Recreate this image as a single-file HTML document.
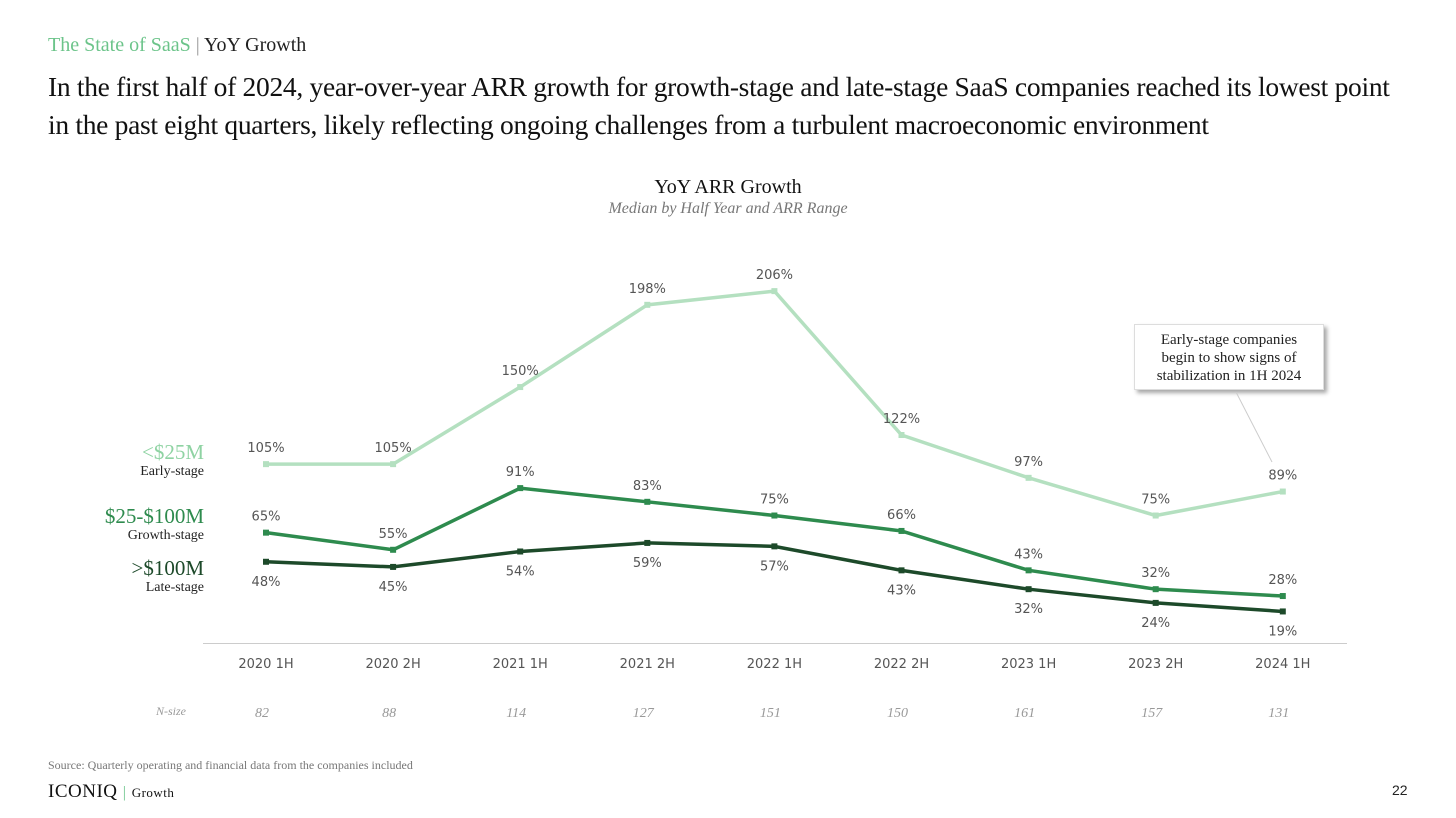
<!DOCTYPE html>
<html><head><meta charset="utf-8"><style>
body{margin:0;width:1456px;height:818px;background:#fff;position:relative;overflow:hidden;font-family:"Liberation Serif",serif}
.a{position:absolute;margin:0}
</style></head><body>
<div class="a" style="left:48px;top:34px;font-size:20px;color:#222"><span style="color:#6cc48a">The State of SaaS</span> <span style="color:#999">|</span> YoY Growth</div>
<h1 class="a" style="left:48px;top:68px;font-size:27.5px;font-weight:normal;line-height:38px;color:#111;letter-spacing:-0.3px">In the first half of 2024, year-over-year ARR growth for growth-stage and late-stage SaaS companies reached its lowest point<br>in the past eight quarters, likely reflecting ongoing challenges from a turbulent macroeconomic environment</h1>
<div class="a" style="left:0;width:1456px;text-align:center;top:176px;font-size:20px;color:#111">YoY ARR Growth</div>
<div class="a" style="left:0;width:1456px;text-align:center;top:200px;font-size:16px;font-style:italic;color:#777">Median by Half Year and ARR Range</div>
<div class="a" style="right:1252px;top:440px;text-align:right"><div style="font-size:21px;color:#8fd3a3;line-height:24px">&lt;$25M</div><div style="font-size:14px;color:#222">Early-stage</div></div>
<div class="a" style="right:1252px;top:504px;text-align:right"><div style="font-size:21px;color:#2e8b4e;line-height:24px">$25-$100M</div><div style="font-size:14px;color:#222">Growth-stage</div></div>
<div class="a" style="right:1252px;top:556px;text-align:right"><div style="font-size:21px;color:#1d4a2a;line-height:24px">&gt;$100M</div><div style="font-size:14px;color:#222">Late-stage</div></div>
<div class="a" style="left:1134px;top:324px;width:190px;height:66px;border:1px solid #ddd;box-shadow:3px 3px 4px rgba(0,0,0,0.35);text-align:center;font-size:15px;line-height:18px;color:#222;padding-top:6px;box-sizing:border-box;background:#fff">Early-stage companies<br>begin to show signs of<br>stabilization in 1H 2024</div>
<svg class="a" style="left:0;top:0" width="1456" height="818" id="chart"></svg>
<div class="a" style="left:48px;top:758px;font-size:12px;color:#777">Source: Quarterly operating and financial data from the companies included</div>
<div class="a" style="left:48px;top:781px;font-size:19px;color:#111;letter-spacing:0.5px">ICONIQ <span style="color:#6cc48a;font-size:16px">|</span> <span style="font-size:13px">Growth</span></div>
<div class="a" style="left:1392px;top:782px;font-size:14px;color:#222;font-family:'Liberation Sans',sans-serif">22</div>
<script>
const categories=["2020 1H","2020 2H","2021 1H","2021 2H","2022 1H","2022 2H","2023 1H","2023 2H","2024 1H"];
const earlyValues=[105,105,150,198,206,122,97,75,89];
const growthValues=[65,55,91,83,75,66,43,32,28];
const lateValues=[48,45,54,59,57,43,32,24,19];
const nSizes=[82,88,114,127,151,150,161,157,131];
const NS="http://www.w3.org/2000/svg";
const svg=document.getElementById('chart');
const x=i=>266+i*127.1;
const y=v=>644-v*1.713;
function mk(t,a){const e=document.createElementNS(NS,t);for(const k in a)e.setAttribute(k,a[k]);svg.appendChild(e);return e;}
let ax=mk('line',{x1:203,x2:1347,y1:643.5,y2:643.5,stroke:'#ccc','stroke-width':1});


// annotation leader
let ld=mk('line',{x1:1236,y1:392,x2:1272,y2:462,stroke:'#ccc','stroke-width':1});


const series=[
 {name:'early',vals:earlyValues,color:'#b4e0c0',below:false},
 {name:'growth',vals:growthValues,color:'#2e8b4e',below:false},
 {name:'late',vals:lateValues,color:'#1d4a2a',below:true}];
series.forEach(s=>{
 const pl=mk('polyline',{points:s.vals.map((v,i)=>x(i)+','+y(v)).join(' '),fill:'none',stroke:s.color,'stroke-width':3.5});
 
 
 s.vals.forEach((v,i)=>{
  const r=mk('rect',{x:x(i)-3,y:y(v)-3,width:6,height:6,fill:s.color});
  
  
  const t=mk('text',{x:x(i),y:y(v)+(s.below?24:-12),'text-anchor':'middle','font-family':'DejaVu Sans, sans-serif','font-size':13,fill:'#555'});
  t.textContent=v+'%';
  
  
 });
});
categories.forEach((c,i)=>{
 const t=mk('text',{x:x(i),y:668,'text-anchor':'middle','font-family':'DejaVu Sans, sans-serif','font-size':13,fill:'#555'});
 t.textContent=c;
 
 
 const n=mk('text',{x:x(i)-4,y:717,'text-anchor':'middle','font-family':'Liberation Serif, serif','font-style':'italic','font-size':14,fill:'#999'});
 n.textContent=nSizes[i];
 
 
});
const nl=mk('text',{x:186,y:715,'text-anchor':'end','font-family':'Liberation Serif, serif','font-style':'italic','font-size':12,fill:'#999'});
nl.textContent='N-size';


</script>
</body></html>
